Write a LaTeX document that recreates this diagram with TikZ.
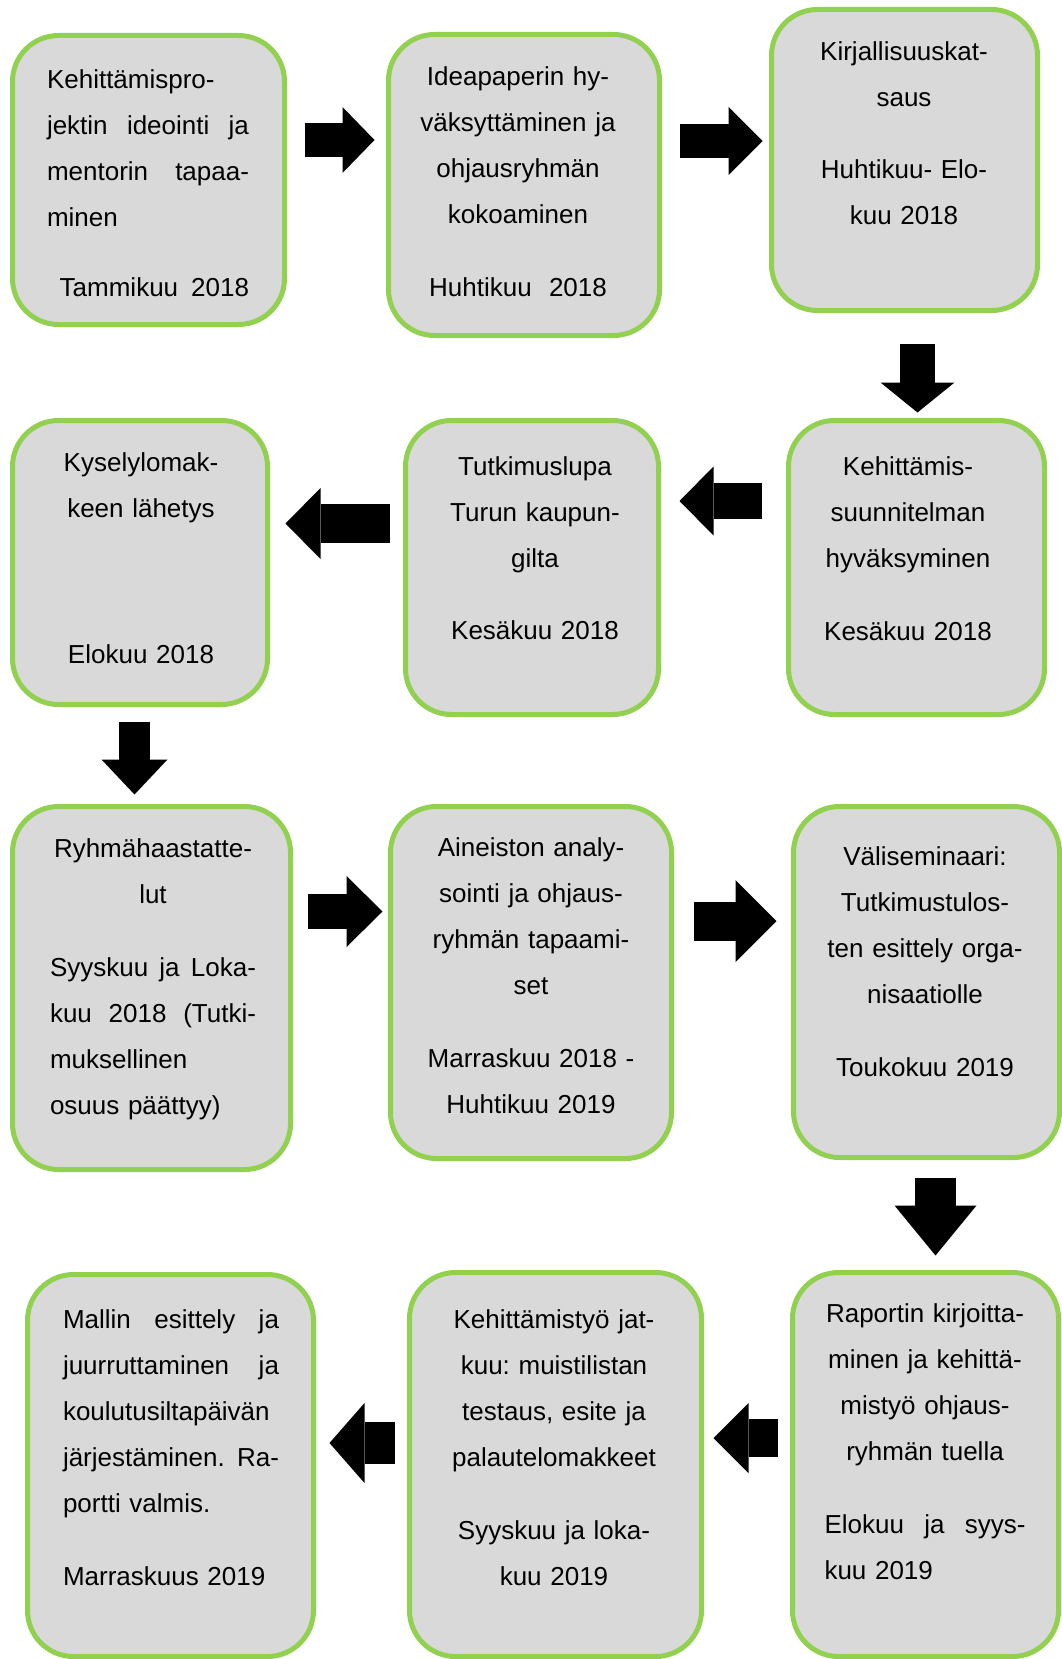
\documentclass[tikz,border=0pt]{standalone}
\usepackage{fontspec}
\setmainfont{Liberation Sans}
\usepackage{xcolor}
\usepackage{tikz}
\usetikzlibrary{arrows.meta, calc, positioning}
\definecolor{stagegreen}{HTML}{92D050}
\definecolor{stagegray}{HTML}{D9D9D9}
\frenchspacing
% a line stretched to the full column: words are split by \hfill
\newcommand{\spread}[2]{\leavevmode\hbox to #1{#2}}
\newcommand{\lline}[2]{\leavevmode\hbox to #1{#2\hfill}}

\begin{document}
\begin{tikzpicture}[x=1pt,y=-1pt,
	stage/.style={draw=stagegreen, fill=stagegray, line width=5pt, rounded corners=46pt, inner sep=0pt},
	txt/.style={font=\fontsize{26}{46}\selectfont, inner sep=0pt, anchor=north, align=center, text width=#1},
	txt/.default=240pt,
	flow/.style n args={3}{line width=#1, -{Triangle[length=#2, width=#3, line width=0pt]}}]
	\useasboundingbox (0,0) rectangle (1062,1659);
	% boxes, row by row
	\node[stage, minimum width=272, minimum height=289] (b1) at (148.5,180) {};
	\node[stage, minimum width=271, minimum height=301] (b2) at (524,185) {};
	\node[stage, minimum width=266, minimum height=301] (b3) at (904.5,160) {};
	\node[stage, minimum width=256, minimum height=294] (b4) at (916.5,567.5) {};
	\node[stage, minimum width=253, minimum height=294] (b5) at (532,567.5) {};
	\node[stage, minimum width=255, minimum height=284] (b6) at (140,562.5) {};
	\node[stage, minimum width=278, minimum height=363] (b7) at (151.5,988) {};
	\node[stage, minimum width=281, minimum height=352] (b8) at (531,982.5) {};
	\node[stage, minimum width=266, minimum height=351] (b9) at (926.5,982) {};
	\node[stage, minimum width=266, minimum height=384] (b10) at (925.5,1464.5) {};
	\node[stage, minimum width=292, minimum height=384] (b11) at (555.5,1464.5) {};
	\node[stage, minimum width=286, minimum height=382] (b12) at (170.5,1465.5) {};
	% texts
	\node[txt=202pt, align=left] (t1) at ($(b1.north)+(-0.5,22.8)$) {\strut Kehittämispro-\\
		\spread{202pt}{jektin\hfill ideointi\hfill ja}\\
		\spread{202pt}{mentorin\hfill tapaa-}\\
		minen\\[24pt]
		\hfill Tammikuu\hspace{13pt}2018};
	\node[txt] (t2) at ($(b2.north)+(-6,20.8)$) {\strut Ideapaperin hy-\\
		väksyttäminen ja\\ ohjausryhmän\\ kokoaminen\\[27pt]
		Huhtikuu\ \ 2018\hspace*{12pt}};
	\node[txt] (t3) at ($(b3.north)+(-0.5,20.8)$) {\strut Kirjallisuuskat-\\ saus\\[26pt]
		Huhtikuu- Elo-\\ kuu 2018};
	\node[txt] (t4) at ($(b4.north)+(-8.5,24.8)$) {\strut Kehittämis-\\ suunnitelman\\
		hyväksyminen\\[27pt] Kesäkuu 2018};
	\node[txt] (t5) at ($(b5.north)+(3,24.8)$) {\strut Tutkimuslupa\\ Turun kaupun-\\
		gilta\\[26pt] Kesäkuu 2018};
	\node[txt] (t6) at ($(b6.north)+(1,20.8)$) {\strut Kyselylomak-\\ keen lähetys\\[100pt]
		Elokuu 2018};
	\node[txt=206pt] (t7) at ($(b7.north)+(1.5,20.8)$) {\strut Ryhmähaastatte-\\ lut\\[27pt]
		\spread{206pt}{Syyskuu\hfill ja\hfill Loka-}\\
		\spread{206pt}{kuu\hfill 2018\hfill (Tutki-}\\
		\lline{206pt}{muksellinen}\\
		\lline{206pt}{osuus päättyy)}};
	\node[txt] (t8) at ($(b8.north)+(0,19.8)$) {\strut Aineiston analy-\\
		sointi ja ohjaus-\\ ryhmän tapaami-\\ set\\[27pt]
		Marraskuu 2018 -\\ Huhtikuu 2019};
	\node[txt] (t9) at ($(b9.north)+(-1.5,28.8)$) {\strut Väliseminaari:\\
		Tutkimustulos-\\ ten esittely orga-\\ nisaatiolle\\[27pt] Toukokuu 2019};
	\node[txt=201pt] (t10) at ($(b10.north)+(-0.5,19.8)$) {\strut Raportin kirjoitta-\\
		minen ja kehittä-\\ mistyö ohjaus-\\ ryhmän tuella\\[27pt]
		\spread{201pt}{Elokuu\hfill ja\hfill syys-}\\
		\lline{201pt}{kuu 2019}};
	\node[txt] (t11) at ($(b11.north)+(-1.5,25.8)$) {\strut Kehittämistyö jat-\\
		kuu: muistilistan\\ testaus, esite ja\\ palautelomakkeet\\[27pt]
		Syyskuu ja loka-\\ kuu 2019};
	\node[txt=216pt, align=left] (t12) at ($(b12.north)+(0.5,23.8)$) {\strut
		\spread{216pt}{Mallin\hfill esittely\hfill ja}\\
		\spread{216pt}{juurruttaminen\hfill ja}\\
		koulutusiltapäivän\\
		\spread{216pt}{järjestäminen.\hfill Ra-}\\
		portti valmis.\\[27pt]
		Marraskuus 2019};
	% block arrows between the boxes
	\draw[flow={34pt}{32pt}{66pt}] ($(b1.east)+(17.5,-40)$) -- ($(b2.west)+(-11.5,-45)$);
	\draw[flow={33pt}{34pt}{68pt}] ($(b2.east)+(17.5,-44)$) -- ($(b3.west)+(-6.5,-19)$);
	\draw[flow={35pt}{30pt}{74pt}] ($(b3.south)+(13,30.5)$) -- ($(b4.north)+(1,-5.5)$);
	\draw[flow={36pt}{34pt}{69pt}] ($(b4.west)+(-24.5,-66.5)$) -- ($(b5.east)+(18.5,-66.5)$);
	\draw[flow={39pt}{35pt}{71pt}] ($(b5.west)+(-13.5,-44)$) -- ($(b6.east)+(15.5,-39)$);
	\draw[flow={31pt}{35pt}{66pt}] ($(b6.south)+(-5.5,14.5)$) -- ($(b7.north)+(-17,-9.5)$);
	\draw[flow={35pt}{36pt}{71pt}] ($(b7.east)+(14.5,-76.5)$) -- ($(b8.west)+(-5.5,-71)$);
	\draw[flow={39pt}{41pt}{82pt}] ($(b8.east)+(19.5,-61.5)$) -- ($(b9.west)+(-14.5,-61)$);
	\draw[flow={41pt}{50pt}{82pt}] ($(b9.south)+(9,17.5)$) -- ($(b10.north)+(10,-14.5)$);
	\draw[flow={38pt}{35pt}{70pt}] ($(b10.west)+(-12.5,-26.5)$) -- ($(b11.east)+(9.5,-26.5)$);
	\draw[flow={42pt}{35pt}{80pt}] ($(b11.west)+(-12.5,-21.5)$) -- ($(b12.east)+(13.5,-22.5)$);
\end{tikzpicture}
\end{document}
